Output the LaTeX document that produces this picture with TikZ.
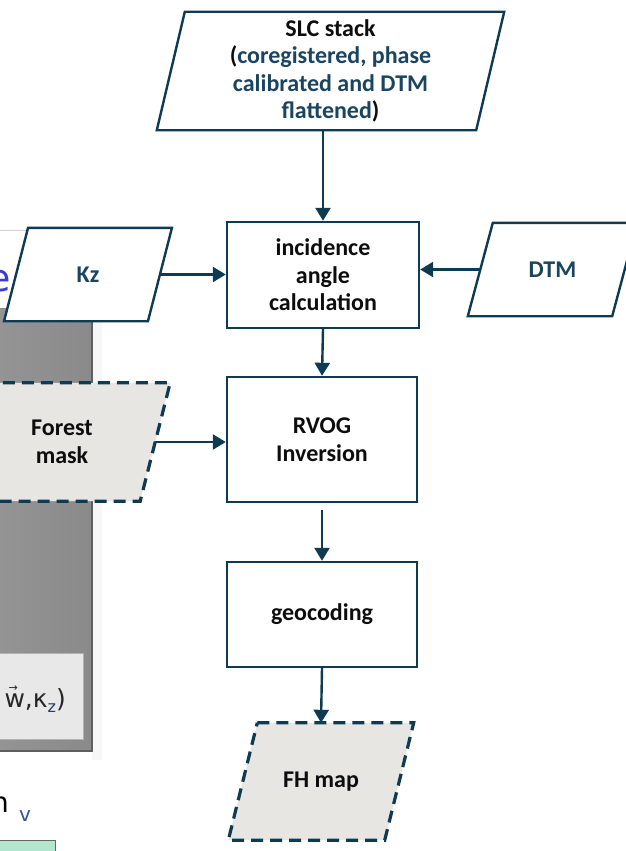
\documentclass[tikz,border=0pt]{standalone}
\usepackage{fontspec}
\setmainfont{Carlito}
\newfontfamily\dejavu{DejaVu Sans}
\usetikzlibrary{arrows.meta}

\definecolor{edgeblue}{HTML}{0F3B52}
\definecolor{tealtext}{HTML}{1B4460}
\definecolor{inktext}{HTML}{0D0D0D}
\definecolor{maskfill}{HTML}{E7E6E2}
\definecolor{panelgrayA}{HTML}{949494}
\definecolor{panelgrayB}{HTML}{8A8A8A}
\definecolor{paneledge}{HTML}{5E5E5E}
\definecolor{insetfill}{HTML}{E8E8E8}
\definecolor{wordblue}{HTML}{3B3BD6}
\definecolor{subblue}{HTML}{2F5597}
\definecolor{mintfill}{HTML}{B3E6CF}

\pgfdeclarelayer{panel}
\pgfdeclarelayer{shape}
\pgfsetlayers{panel,shape,main}

% parallelogram outline around a (text-only) node: #1 style, #2 node, #3 slant in pt
\newcommand\slantframe[3]{%
  \begin{pgfonlayer}{shape}
    \path[#1] ([xshift={#3*0.5pt}]#2.north west) -- ([xshift={#3*0.5pt}]#2.north east)
      -- ([xshift={-#3*0.5pt}]#2.south east) -- ([xshift={-#3*0.5pt}]#2.south west) -- cycle;
  \end{pgfonlayer}}

\tikzset{
  lbl/.style={font=\bfseries\fontsize{24}{27.5}\selectfont, align=center, text=inktext},
  procbox/.style={lbl, draw=edgeblue, line width=2.4pt, fill=white, inner sep=0pt},
  slantbox/.style={lbl, inner sep=0pt},
  solidframe/.style={draw=edgeblue, line width=2.4pt, fill=white},
  dashframe/.style={draw=edgeblue, line width=3.2pt, fill=maskfill,
                    dash pattern=on 12pt off 7pt},
  flow/.style={draw=edgeblue, line width=2.4pt, -{Triangle[length=13pt,width=15pt]}}
}

\begin{document}
\begin{tikzpicture}[x=1pt, y=-1pt]
\useasboundingbox (0,0) rectangle (626,851);

% ---- slide fragment at the left edge ----
\begin{pgfonlayer}{panel}
  \clip (0,0) rectangle (626,851);
  \fill[white] (0,0) rectangle (626,851);
  \draw[black!18, line width=1pt] (0,230) -- (40,230);
  \node[anchor=base east, inner sep=0pt, text=wordblue,
        font=\dejavu\fontsize{38}{38}\selectfont] at (11,291) {e};
  \fill[black!3] (92,308) rectangle (102,760);
  \shade[left color=panelgrayA, right color=panelgrayB] (-2,308) rectangle (92,751);
  \draw[paneledge, line width=1.2pt] (92,308) -- (92,751) -- (-2,751);
  \draw[black!45, line width=1pt] (-2,308) -- (92,308);
  \filldraw[fill=insetfill, draw=black!30, line width=0.8pt] (-2,653) rectangle (83,739);
  \node[anchor=base east, inner sep=0pt, text=black!85,
        font=\dejavu\fontsize{25}{25}\selectfont] at (66,707)
    {\makebox[0pt][l]{\raisebox{16pt}{\hspace{4pt}\fontsize{11}{11}\selectfont →}}w,κ\raisebox{-5pt}{\fontsize{16}{16}\selectfont\color{subblue!70!black}z})};
  \node[anchor=base east, inner sep=0pt, text=black,
        font=\dejavu\fontsize{28}{28}\selectfont] at (9,812) {n};
  \node[anchor=base west, inner sep=0pt, text=subblue,
        font=\dejavu\fontsize{20}{20}\selectfont] at (19,821) {v};
  \filldraw[fill=mintfill, draw=black!60, line width=1pt] (-2,840) rectangle (55,860);
\end{pgfonlayer}

% ---- inputs ----
\node[slantbox, minimum width=319pt, minimum height=118pt] (slc) at (330.5,71)
  {SLC stack\\({\color{tealtext}coregistered, phase}\\{\color{tealtext}calibrated and DTM}\\{\color{tealtext}flattened})};
\slantframe{solidframe}{slc}{28}

\node[slantbox, text=tealtext, minimum width=143.5pt, minimum height=93pt] (kz) at (88,274.5) {Kz};
\slantframe{solidframe}{kz}{24}

\node[slantbox, text=tealtext, minimum width=144pt, minimum height=93pt] (dtm) at (552.5,269.5) {DTM};
\slantframe{solidframe}{dtm}{25}

\node[slantbox, minimum width=186pt, minimum height=118pt] (mask) at (62,442) {Forest\\mask};
\slantframe{dashframe}{mask}{30}

% ---- processing chain ----
\node[procbox, minimum width=192pt, minimum height=106pt] (inc) at (323,275)
  {incidence\\angle\\calculation};
\node[procbox, minimum width=190pt, minimum height=125pt] (rvog) at (322,439.5)
  {RVOG\\Inversion};
\node[procbox, minimum width=190pt, minimum height=105pt] (geo) at (322,614.5)
  {geocoding};

% ---- output ----
\node[slantbox, minimum width=156pt, minimum height=117pt] (fh) at (321,781.5) {FH map};
\slantframe{dashframe}{fh}{29}

% ---- connectors ----
\draw[flow] (inc.north |- slc.south) -- (inc.north);
\draw[flow] (kz.east) -- (kz.east -| inc.west);
\draw[flow] (dtm.west) -- (dtm.west -| inc.east);
\draw[flow] (inc.south) -- (rvog.north);
\draw[flow] (mask.east) -- (mask.east -| rvog.west);
\draw[flow] ([yshift=-7pt]rvog.south) -- (geo.north);
\draw[flow] (geo.south) -- (fh.north);
\end{tikzpicture}
\end{document}
